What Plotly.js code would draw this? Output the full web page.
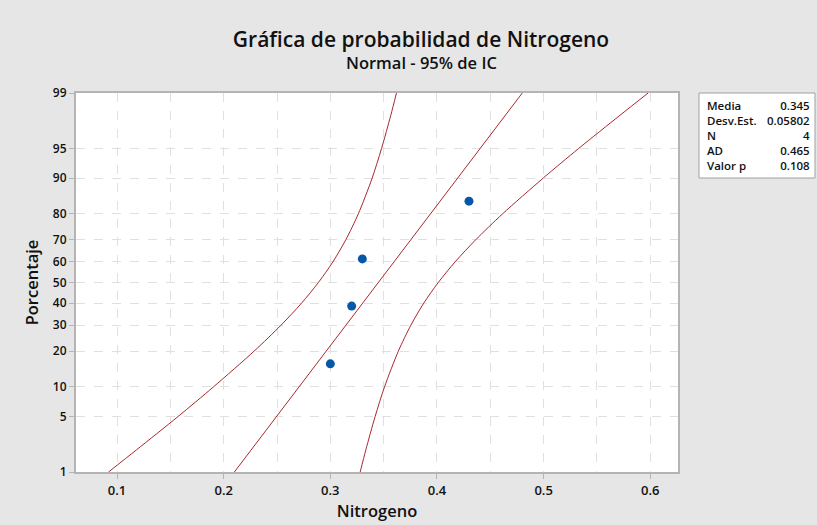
<!DOCTYPE html>
<html>
<head>
<meta charset="utf-8">
<script src="https://cdn.plot.ly/plotly-3.0.1.min.js"></script>
<style>html,body{margin:0;padding:0;background:#e6e6e6;}#chart{width:817px;height:525px;}</style>
</head>
<body>
<div id="chart"></div>
<script>
// ---- data ----
const nitrogeno = [0.30, 0.32, 0.33, 0.43];
const porcentaje = [15.9, 38.6, 61.4, 84.1];
const media = 0.345;
const desvEst = 0.05802;
const bandPct = [1, 2, 5, 10, 20, 30, 40, 50, 60, 70, 80, 90, 95, 98, 99];
const bandLower = [0.0920, 0.1183, 0.1572, 0.1904, 0.2286, 0.2537, 0.2730, 0.2888, 0.3024, 0.3145, 0.3262, 0.3392, 0.3480, 0.3567, 0.3620];
const bandUpper = [0.3280, 0.3333, 0.3420, 0.3508, 0.3638, 0.3755, 0.3876, 0.4012, 0.4170, 0.4363, 0.4614, 0.4996, 0.5328, 0.5717, 0.5980];
const yTickPct = [1, 5, 10, 20, 30, 40, 50, 60, 70, 80, 90, 95, 99];
const statLabels = ["Media", "Desv.Est.", "N", "AD", "Valor p"];
const statValues = ["0.345", "0.05802", "4", "0.465", "0.108"];

// inverse standard normal CDF (Acklam)
function normInv(p) {
  const a = [-3.969683028665376e+01, 2.209460984245205e+02, -2.759285104469687e+02, 1.383577518672690e+02, -3.066479806614716e+01, 2.506628277459239e+00];
  const b = [-5.447609879822406e+01, 1.615858368580409e+02, -1.556989798598866e+02, 6.680131188771972e+01, -1.328068155288572e+01];
  const c = [-7.784894002430293e-03, -3.223964580411365e-01, -2.400758277161838e+00, -2.549732539343734e+00, 4.374664141464968e+00, 2.938163982698783e+00];
  const d = [7.784695709041462e-03, 3.224671290700398e-01, 2.445134137142996e+00, 3.754408661907416e+00];
  const pl = 0.02425, ph = 1 - pl;
  let q, r;
  if (p < pl) { q = Math.sqrt(-2 * Math.log(p)); return (((((c[0]*q+c[1])*q+c[2])*q+c[3])*q+c[4])*q+c[5]) / ((((d[0]*q+d[1])*q+d[2])*q+d[3])*q+1); }
  if (p <= ph) { q = p - 0.5; r = q*q; return (((((a[0]*r+a[1])*r+a[2])*r+a[3])*r+a[4])*r+a[5])*q / (((((b[0]*r+b[1])*r+b[2])*r+b[3])*r+b[4])*r+1); }
  q = Math.sqrt(-2 * Math.log(1 - p)); return -(((((c[0]*q+c[1])*q+c[2])*q+c[3])*q+c[4])*q+c[5]) / ((((d[0]*q+d[1])*q+d[2])*q+d[3])*q+1);
}
const z = pc => normInv(pc / 100);

const lineColor = '#a8282d';
const bandZ = bandPct.map(z);
const fitX = bandZ.map(v => media + v * desvEst);

const traces = [
  {x: bandLower, y: bandZ, mode: 'lines', line: {color: lineColor, width: 1, shape: 'spline', smoothing: 0.8}, hoverinfo: 'skip'},
  {x: bandUpper, y: bandZ, mode: 'lines', line: {color: lineColor, width: 1, shape: 'spline', smoothing: 0.8}, hoverinfo: 'skip'},
  {x: fitX, y: bandZ, mode: 'lines', line: {color: lineColor, width: 1}, hoverinfo: 'skip'},
  {x: nitrogeno, y: porcentaje.map(z), mode: 'markers', marker: {color: '#0757a8', size: 9}}
];

const fontFam = '"Open Sans", "Noto Sans", sans-serif';
const statFont = {family: fontFam, size: 11.5, color: '#111', weight: 600};
const annotations = [
  {text: 'Normal - 95% de IC', xref: 'paper', yref: 'paper', x: (421 - 76) / 602, y: 1 + 31 / 379, xanchor: 'center', yanchor: 'middle', showarrow: false, font: {family: fontFam, size: 16.5, color: '#111', weight: 600}},
  {text: statLabels.join('<br>'), xref: 'paper', yref: 'paper', x: (705 - 76) / 602, y: 1 - 3 / 379, xanchor: 'left', yanchor: 'top', align: 'left', showarrow: false, font: statFont},
  {text: statValues.join('<br>'), xref: 'paper', yref: 'paper', x: (812 - 76) / 602, y: 1 - 3 / 379, xanchor: 'right', yanchor: 'top', align: 'right', showarrow: false, font: statFont}
];

const layout = {
  width: 817, height: 525,
  paper_bgcolor: '#e6e6e6', plot_bgcolor: '#ffffff',
  margin: {l: 76, r: 139, t: 93, b: 53},
  showlegend: false,
  font: {family: fontFam, color: '#111'},
  title: {text: 'Gráfica de probabilidad de Nitrogeno', x: 421 / 817, xanchor: 'center', y: 1 - 40 / 525, yanchor: 'middle', font: {family: fontFam, size: 21, color: '#111', weight: 600}},
  xaxis: {
    range: [0.0615, 0.626], tick0: 0.1, dtick: 0.1, tickformat: '.1f',
    showgrid: true, gridcolor: '#e0e0e0', griddash: 'dash', gridwidth: 1,
    minor: {tick0: 0.05, dtick: 0.05, showgrid: true, gridcolor: '#e0e0e0', griddash: 'dash', gridwidth: 1},
    zeroline: false, showline: true, linecolor: '#b4b4b4', linewidth: 2, mirror: true,
    ticks: 'outside', ticklen: 5, tickcolor: '#b4b4b4',
    tickfont: {size: 13, color: '#111', weight: 600},
    title: {text: 'Nitrogeno', font: {size: 16.5, color: '#111', weight: 600}, standoff: 8}
  },
  yaxis: {
    range: [z(1), z(99)], tickmode: 'array', tickvals: yTickPct.map(z), ticktext: yTickPct.map(String),
    showgrid: true, gridcolor: '#e0e0e0', griddash: 'dash', gridwidth: 1,
    zeroline: false, showline: true, linecolor: '#b4b4b4', linewidth: 2, mirror: true,
    ticks: 'outside', ticklen: 5, tickcolor: '#b4b4b4',
    tickfont: {size: 12, color: '#111', weight: 600},
    title: {text: 'Porcentaje', font: {size: 16.5, color: '#111', weight: 600}, standoff: 10}
  },
  shapes: [
    {type: 'rect', xref: 'paper', yref: 'paper', x0: (699 - 76) / 602, x1: (815 - 76) / 602, y0: 1 - 85 / 379, y1: 1, fillcolor: '#ffffff', line: {color: '#a0a0a0', width: 1}}
  ],
  annotations: annotations
};

Plotly.newPlot('chart', traces, layout, {displayModeBar: false, staticPlot: true});
</script>
</body>
</html>
